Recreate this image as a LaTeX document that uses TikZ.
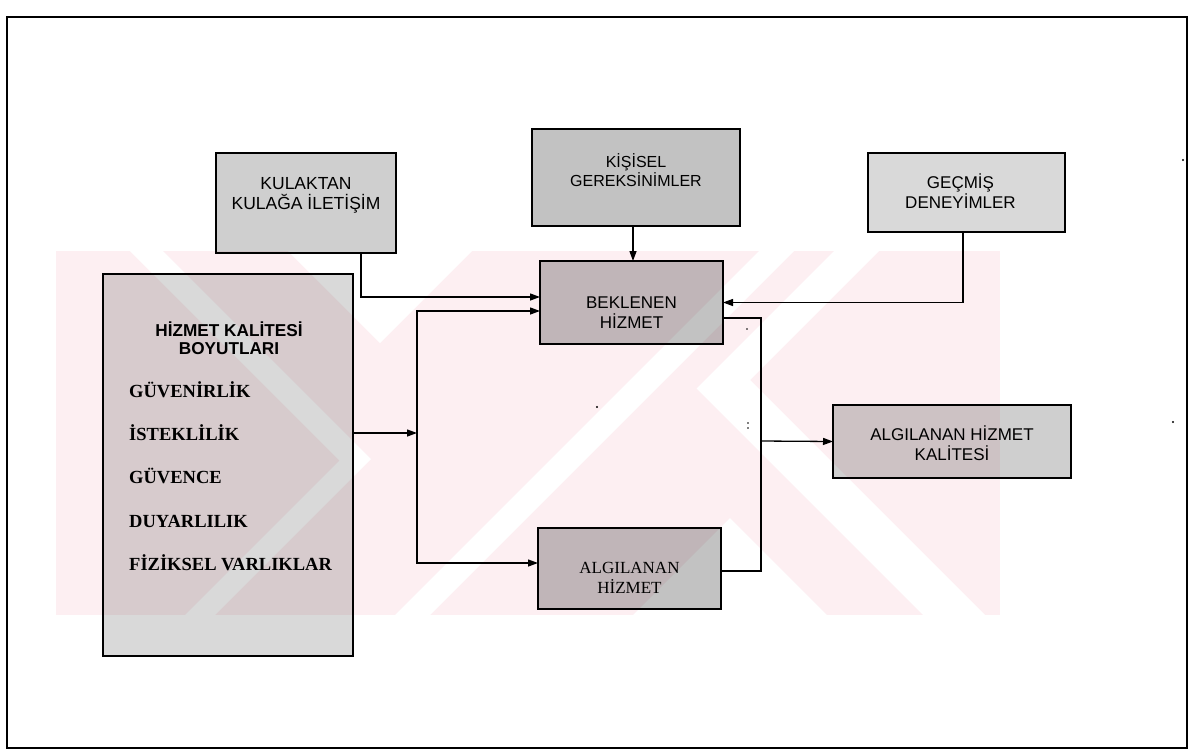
\documentclass[tikz,border=0pt]{standalone}
\usepackage{fontspec}
\setmainfont{Liberation Serif}
\setsansfont{Liberation Sans}
\usetikzlibrary{arrows.meta}
\definecolor{wmpink}{RGB}{253,239,242}
\tikzset{
  box/.style={draw=black, line width=1.4pt, fill=black, fill opacity=#1, text opacity=1,
              draw opacity=1, inner sep=0pt, outer sep=0pt},
  conn/.style={draw=black, line width=1.3pt},
  arr/.style={conn, -{Triangle[length=10pt,width=7pt]}},
  sanslbl/.style={font=\sffamily\fontsize{17}{20}\selectfont, align=center, inner sep=0pt},
  serlbl/.style={font=\rmfamily\fontsize{17}{20}\selectfont, align=center, inner sep=0pt},
  headtxt/.style={font=\sffamily\bfseries\fontsize{17.2}{18}\selectfont, anchor=base, inner sep=0pt},
  itemtxt/.style={font=\rmfamily\bfseries\fontsize{18.5}{20}\selectfont, anchor=base west, inner sep=0pt},
}
\begin{document}
\begin{tikzpicture}[x=1pt,y=-1pt]
\useasboundingbox (0,0) rectangle (1191,753);
\fill[white] (0,0) rectangle (1191,753);

% watermark
\begin{scope}
  \clip (56,251) rectangle (1000,615);
  \fill[wmpink] (56,251) rectangle (1000,615);
  \fill[white] (288,251) -- (472,251) -- (380,343) -- cycle;
  \fill[white] (730,518) -- (827,615) -- (633,615) -- cycle;
  \fill[white] (130,251) -- (163,251) -- (371,459) -- (215,615) -- (185,615) -- (339.5,460.5) -- cycle;
  \fill[white] (759,251) -- (794,251) -- (430,615) -- (395,615) -- cycle;
  \fill[white] (834,251) -- (696.5,388.5) -- (923,615) -- (985,615) -- (750,380) -- (879,251) -- cycle;
\end{scope}

% frame
\draw[line width=1.8pt] (7,17) rectangle (1187,748);

% boxes
\node[box=0.19, minimum width=180pt, minimum height=100pt,
      label={[name=kulaktxt, sanslbl, font=\sffamily\fontsize{17.5}{20}\selectfont, yshift=8pt]center:KULAKTAN\\KULAĞA İLETİŞİM}] (kulak) at (306,203) {};
\node[box=0.24, minimum width=208pt, minimum height=97pt,
      label={[name=kisitxt, sanslbl, font=\sffamily\fontsize{16}{19}\selectfont, yshift=7.5pt]center:KİŞİSEL\\GEREKSİNİMLER}] (kisi) at (636,177.5) {};
\node[box=0.15, minimum width=197pt, minimum height=79pt,
      label={[name=gectxt, sanslbl, xshift=-6pt, yshift=1pt]center:GEÇMİŞ\\DENEYİMLER}] (gec) at (966.5,192.5) {};
\node[box=0.24, minimum width=183pt, minimum height=83pt,
      label={[name=bektxt, sanslbl, yshift=-10pt]center:BEKLENEN\\HİZMET}] (bek) at (631.5,302.5) {};
\node[box=0.24, minimum width=183pt, minimum height=81pt,
      label={[name=algtxt, serlbl, yshift=-9pt]center:ALGILANAN\\HİZMET}] (alg) at (629.5,568.5) {};
\node[box=0.19, minimum width=238pt, minimum height=73pt,
      label={[name=kaltxt, sanslbl, yshift=-2pt]center:ALGILANAN HİZMET\\KALİTESİ}] (kal) at (952,441.5) {};
\node[box=0.15, minimum width=250pt, minimum height=382pt] (boyut) at (228,465) {};

% contents of the dimensions box
\node[headtxt] (bas1) at (229,336) {HİZMET KALİTESİ};
\node[headtxt] (bas2) at (229,354) {BOYUTLARI};
\node[itemtxt] (d1) at (129,397) {GÜVENİRLİK};
\node[itemtxt] (d2) at (129,440) {İSTEKLİLİK};
\node[itemtxt] (d3) at (129,483) {GÜVENCE};
\node[itemtxt] (d4) at (129,527) {DUYARLILIK};
\node[itemtxt] (d5) at (129,570) {FİZİKSEL VARLIKLAR};

% connectors
\coordinate (j) at (417,433);
\coordinate (k) at (761,441);
\draw[arr] ([xshift=55pt]kulak.south) |- ([yshift=5.5pt]bek.west);
\draw[arr] ([yshift=32pt]boyut.east) -- (j);
\draw[arr] (j) |- ([yshift=-8.5pt]bek.west);
\draw[arr] (j) |- ([yshift=5.5pt]alg.west);
\draw[arr] ([xshift=-3pt]kisi.south) -- ([xshift=-3pt]kisi.south |- bek.north);
\draw[arr] ([xshift=-3.5pt]gec.south) |- (bek.east);
\draw[conn] ([yshift=-15.5pt]bek.east) -| (k);
\draw[conn] ([yshift=-2.5pt]alg.east) -| (k);
\draw[arr] (k) -- (kal.west);

% stray specks
\fill (597,407) circle (1.1pt);
\fill (747,329) circle (0.9pt);
\fill (748,423) circle (0.9pt);
\fill (748,428) circle (0.9pt);
\fill (1173,422) circle (1.2pt);
\fill (1183,160) circle (1.2pt);
\end{tikzpicture}
\end{document}
